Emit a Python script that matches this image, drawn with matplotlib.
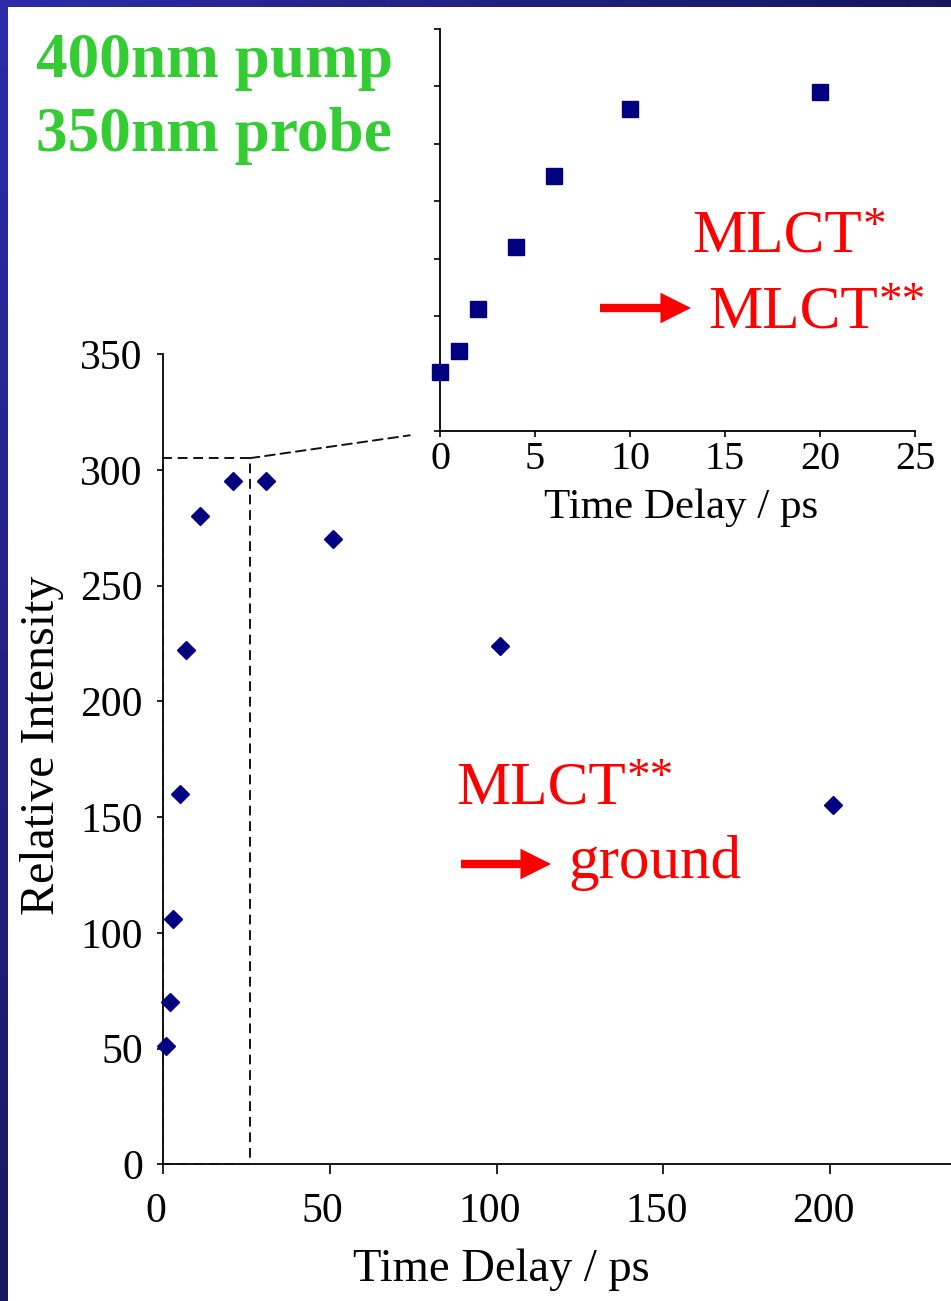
import numpy as np
import matplotlib
matplotlib.use("Agg")
import matplotlib.pyplot as plt
from matplotlib.patches import Rectangle, ConnectionPatch, FancyArrowPatch
from matplotlib.text import Annotation
from matplotlib.transforms import ScaledTranslation

# Transient signal: pump-probe delay (ps) and relative intensity
delay_ps = [1, 2, 3, 5, 7, 11, 21, 31, 51, 101, 201]
intensity = [51, 70, 106, 160, 222, 280, 295, 295, 270, 224, 155]

# Early-time detail, delay counted from the first point
early_delay_ps = [0, 1, 2, 4, 6, 10, 20]
early_intensity = intensity[:7]

main_xticks = [0, 50, 100, 150, 200]
main_yticks = [0, 50, 100, 150, 200, 250, 300, 350]
inset_xticks = [0, 5, 10, 15, 20, 25]
inset_yticks = [0, 50, 100, 150, 200, 250, 300, 350]

# Region of the main plot that is enlarged in the inset
zoom_x = (0, 26)
zoom_y = (0, 305)

W, H = 951, 1301
plt.rcParams["font.family"] = ["Liberation Serif", "DejaVu Serif"]

fig = plt.figure(figsize=(W / 100, H / 100), dpi=100, facecolor="white")


def fxy(px, py):
    """Pixel position measured from the top-left corner -> figure fraction."""
    return px / W, 1 - py / H


NAVY = "#000080"
RED = "#ff0000"
GREEN = "#33cc33"
DASH_COLOR = "#111111"

# ---- slide frame (blue gradient bands on top and left) ----
band = 7.5
top_ax = fig.add_axes([0, 1 - band / H, 1, band / H])
grad = np.linspace(0, 1, 256)[None, :]
c0 = np.array([44, 44, 170]) / 255
c1 = np.array([22, 22, 96]) / 255
top_ax.imshow(c0 + (c1 - c0) * grad[..., None], aspect="auto", extent=(0, 1, 0, 1))
top_ax.axis("off")
left_ax = fig.add_axes([0, 0, band / W, 1])
c2 = np.array([24, 24, 96]) / 255
left_ax.imshow(c0 + (c2 - c0) * grad.T[..., None], aspect="auto", extent=(0, 1, 0, 1))
left_ax.axis("off")

# ---- main plot ----
x0, y0 = fxy(163, 1164.3)
ax = fig.add_axes([x0, y0, 1 - x0, (1164.3 - 354) / H])
ax.set_facecolor("none")
ax.plot(delay_ps, intensity, ls="none", marker="D", ms=9.5, color=NAVY,
        mec=NAVY, clip_on=False, zorder=3)
ax.set_xlim(0, (W - 163) / 3.335)
ax.set_ylim(0, 350)
ax.set_xticks(main_xticks)
ax.set_yticks(main_yticks)
for s in ("top", "right"):
    ax.spines[s].set_visible(False)
for s in ("left", "bottom"):
    ax.spines[s].set_linewidth(1.3)
ax.tick_params(axis="x", direction="out", length=7, width=1.2, pad=13, labelsize=30)
ax.tick_params(axis="y", direction="out", length=4.5, width=1.2, pad=10, labelsize=30)
shift = ScaledTranslation(-7 / 100, 0, fig.dpi_scale_trans)
for lbl in ax.get_xticklabels():
    lbl.set_transform(lbl.get_transform() + shift)
ax.set_xlabel("Time Delay / ps", fontsize=33.5)
ax.xaxis.set_label_coords(0.429, -0.1033)
ax.set_ylabel("Relative Intensity", fontsize=34.5)
ax.yaxis.set_label_coords(-0.126, 0.5175)

dash = (0, (5, 3))
ax.add_patch(Rectangle((zoom_x[0], zoom_y[0]), zoom_x[1] - zoom_x[0],
                       zoom_y[1] - zoom_y[0], fill=False, ls=dash, lw=1.4,
                       ec=DASH_COLOR, clip_on=False, zorder=2.6))

# ---- inset: early-time detail ----
ix0, iy0 = fxy(440, 431)
inset = fig.add_axes([ix0, iy0, 475 / W, 402 / H])
inset.set_facecolor("none")
inset.plot(early_delay_ps, early_intensity, ls="none", marker="s", ms=11,
           color=NAVY, mec=NAVY, clip_on=False, zorder=3)
inset.set_xlim(0, 25)
inset.set_ylim(0, 350)
inset.set_xticks(inset_xticks)
inset.set_yticks(inset_yticks)
for s in ("top", "right"):
    inset.spines[s].set_visible(False)
for s in ("left", "bottom"):
    inset.spines[s].set_linewidth(1.3)
inset.tick_params(axis="x", direction="out", length=4.5, width=1.2, pad=3, labelsize=29)
inset.tick_params(axis="y", direction="out", length=4.5, width=1.2, labelleft=False)
inset.set_xlabel("Time Delay / ps", fontsize=31)
inset.xaxis.set_label_coords(0.507, -0.144)

con = ConnectionPatch(xyA=(zoom_x[1], zoom_y[1]), coordsA=ax.transData,
                      xyB=(0, 0), coordsB=inset.transData, ls=dash, lw=1.4,
                      color=DASH_COLOR, shrinkA=0, shrinkB=22)
fig.add_artist(con)

# ---- experiment labels ----
fig.text(*fxy(36, 77), "400nm pump", fontsize=45.5, fontweight="bold",
         color=GREEN, va="baseline", ha="left")
fig.text(*fxy(36, 151), "350nm probe", fontsize=45.5, fontweight="bold",
         color=GREEN, va="baseline", ha="left")


def state_label(px, py, stars):
    t = fig.text(*fxy(px, py), "MLCT", fontsize=44, color=RED,
                 va="baseline", ha="left")
    sup = Annotation(stars, xy=(1, 1), xycoords=t, xytext=(1, 2),
                     textcoords="offset points", va="top", ha="left",
                     fontsize=34, color=RED)
    fig.add_artist(sup)


def red_arrow(px0, px1, py):
    arr = FancyArrowPatch(posA=fxy(px0, py), posB=fxy(px1, py),
                          transform=fig.transFigure,
                          arrowstyle="simple,head_length=2.2,head_width=2.2,tail_width=0.6",
                          mutation_scale=10, color=RED, lw=0,
                          shrinkA=0, shrinkB=0)
    fig.add_artist(arr)


state_label(692, 252, "*")
red_arrow(600, 691, 308)
state_label(708, 327, "**")

state_label(456, 803, "**")
red_arrow(461, 551, 864)
fig.text(*fxy(568, 878), "ground", fontsize=44, color=RED,
         va="baseline", ha="left")

fig.savefig("out.png", dpi=100, facecolor="white")
